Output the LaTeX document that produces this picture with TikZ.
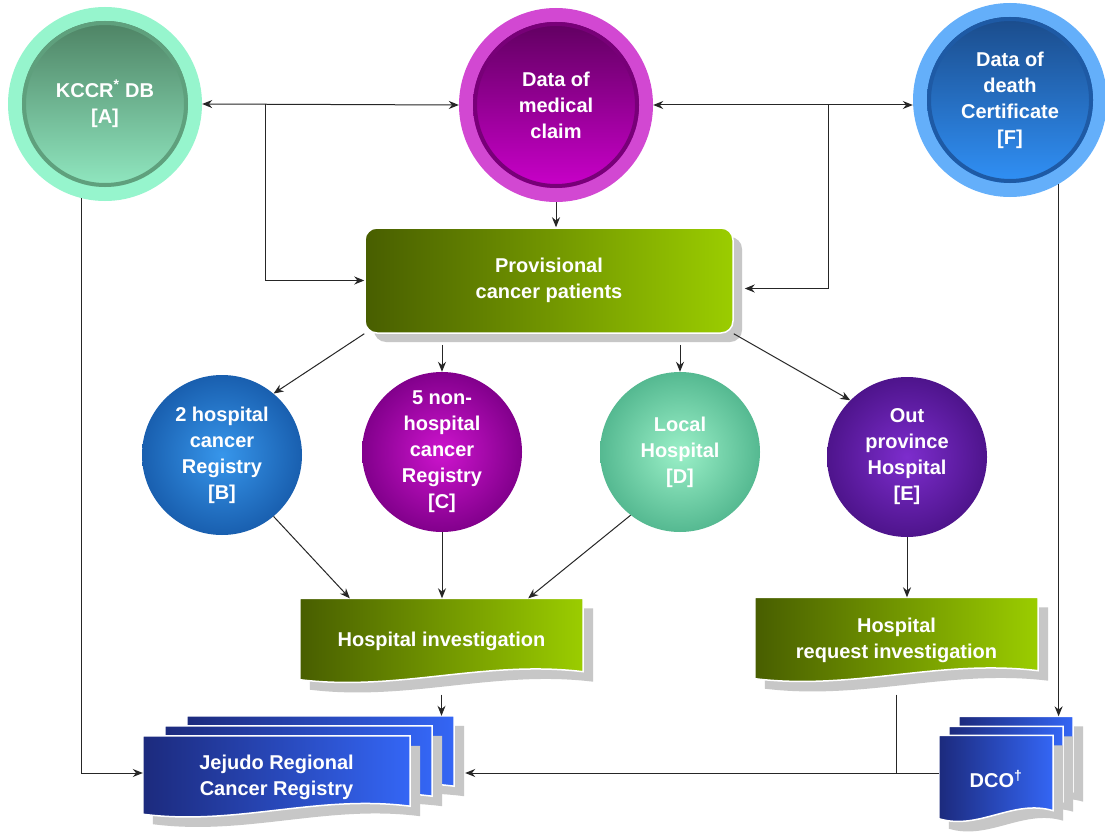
\documentclass[tikz,border=0pt]{standalone}
\usepackage{fontspec}
\setmainfont{Liberation Sans}
\usetikzlibrary{arrows.meta,positioning,calc,backgrounds,shadows}

\definecolor{mintring}{RGB}{150,245,205}
\definecolor{mintdark}{RGB}{72,122,92}
\definecolor{mintlight}{RGB}{150,240,200}
\definecolor{mintrim}{RGB}{95,160,125}
\definecolor{plumring}{RGB}{210,72,210}
\definecolor{plumdark}{RGB}{88,0,88}
\definecolor{plumlight}{RGB}{210,0,210}
\definecolor{plumrim}{RGB}{120,0,120}
\definecolor{skyring}{RGB}{100,175,250}
\definecolor{skydark}{RGB}{25,70,130}
\definecolor{skylight}{RGB}{50,150,255}
\definecolor{skyrim}{RGB}{30,90,165}
\definecolor{oliveL}{RGB}{72,94,0}
\definecolor{oliveR}{RGB}{155,205,0}
\definecolor{navyL}{RGB}{28,42,125}
\definecolor{navyR}{RGB}{52,102,245}
\definecolor{bIn}{RGB}{55,150,235}
\definecolor{bOut}{RGB}{25,95,175}
\definecolor{cIn}{RGB}{205,20,205}
\definecolor{cOut}{RGB}{130,0,140}
\definecolor{dIn}{RGB}{155,240,200}
\definecolor{dOut}{RGB}{85,185,145}
\definecolor{eIn}{RGB}{125,45,205}
\definecolor{eOut}{RGB}{78,20,140}

% wavy sheet behind a page node
\newcommand{\docpage}[2]{%
  \path[#2] (#1.north west) -- (#1.north east) -- ($(#1.south east)+(0,-12)$)
    .. controls ($(#1.south east)!0.35!(#1.south west)+(0,-24)$)
    and ($(#1.south east)!0.65!(#1.south west)+(0,8)$)
    .. ($(#1.south west)+(0,-4)$) -- cycle;}

\begin{document}
\begin{tikzpicture}[
    x=1pt, y=-1pt,
    >={Stealth[length=10pt,width=8pt]},
    txt/.style={text=white, font=\bfseries\fontsize{20}{26}\selectfont, align=center},
    ringball/.style n args={4}{circle, minimum size=194pt, inner sep=0pt, fill=#1, txt,
        path picture={
          \shade[top color=#2, bottom color=#3] (path picture bounding box.center) circle (83pt);
          \draw[#4, line width=4pt] (path picture bounding box.center) circle (81pt);}},
    ball/.style 2 args={circle, minimum size=160pt, inner sep=0pt, inner color=#1, outer color=#2, txt},
    provbox/.style={rectangle, rounded corners=12pt, minimum width=368pt, minimum height=105pt,
        left color=oliveL, right color=oliveR, draw=white, line width=1.5pt, txt,
        drop shadow={shadow xshift=9pt, shadow yshift=-9pt, fill=black!22, opacity=1}},
    pagebox/.style={rectangle, inner sep=0pt, txt},
    greenpage/.style={left color=oliveL, right color=oliveR, draw=white, line width=1.5pt},
    bluepage/.style={left color=navyL, right color=navyR, draw=white, line width=1.5pt},
    pageshadow/.style={fill=black!22, transform canvas={xshift=10pt, yshift=-10pt}},
    arrow/.style={->, line width=1pt, black!85},
    link/.style={line width=1pt, black!85}
]
\useasboundingbox (0,0) rectangle (1105,832);

%% ── Sources ──────────────────────────────────────────────────────
\node[ringball={mintring}{mintdark}{mintlight}{mintrim}] (kccr) at (105,104)
    {KCCR\textsuperscript{*} DB\\{[A]}};
\node[ringball={plumring}{plumdark}{plumlight}{plumrim}] (claim) at (556,105)
    {Data of\\medical\\claim};
\node[ringball={skyring}{skydark}{skylight}{skyrim}] (dcert) at (1010,100)
    {Data of\\death\\Certificate\\{[F]}};

\node[provbox] (prov) at (549,280.5) {Provisional\\cancer patients};

%% ── Registries and hospitals ─────────────────────────────────────
\node[ball={bIn}{bOut}] (reg2)  at (222,455) {2 hospital\\cancer\\Registry\\{[B]}};
\node[ball={cIn}{cOut}] (reg5)  at (442,452) {5 non-\\hospital\\cancer\\Registry\\{[C]}};
\node[ball={dIn}{dOut}] (local) at (680,452) {Local\\Hospital\\{[D]}};
\node[ball={eIn}{eOut}] (outp)  at (907,457) {Out\\province\\Hospital\\{[E]}};

%% ── Investigations and outputs ───────────────────────────────────
\node[pagebox, minimum width=283pt, minimum height=85pt] (hinv) at (441.5,641) {Hospital investigation};
\node[pagebox, minimum width=283pt, minimum height=85pt] (hreq) at (896.5,640) {Hospital\\request investigation};

\node[pagebox, minimum width=267pt, minimum height=82pt] (jeju3) at (320.5,757) {};
\node[pagebox, minimum width=267pt, minimum height=82pt] (jeju2) at (298.5,767) {};
\node[pagebox, minimum width=267pt, minimum height=82pt] (jeju)  at (276.5,777) {Jejudo Regional\\Cancer Registry};

\node[pagebox, minimum width=114pt, minimum height=87pt] (dco3) at (1016,760) {};
\node[pagebox, minimum width=114pt, minimum height=87pt] (dco2) at (1006,770) {};
\node[pagebox, minimum width=114pt, minimum height=87pt] (dco)  at (996,779) {DCO\textsuperscript{†}};

\begin{scope}[on background layer]
  \fill[white] (0,0) rectangle (1105,832);
  \docpage{hinv}{pageshadow}  \docpage{hinv}{greenpage}
  \docpage{hreq}{pageshadow}  \docpage{hreq}{greenpage}
  \docpage{jeju3}{pageshadow} \docpage{jeju3}{bluepage}
  \docpage{jeju2}{pageshadow} \docpage{jeju2}{bluepage}
  \docpage{jeju}{pageshadow}  \docpage{jeju}{bluepage}
  \docpage{dco3}{pageshadow}  \docpage{dco3}{bluepage}
  \docpage{dco2}{pageshadow}  \docpage{dco2}{bluepage}
  \docpage{dco}{pageshadow}   \docpage{dco}{bluepage}
\end{scope}

%% ── Arrows ───────────────────────────────────────────────────────
\coordinate (jl) at (265,104);
\coordinate (jr) at (828,105);
\draw[link, <->] (kccr.east) -- (claim.west);
\draw[link, <->] (claim.east) -- (claim.east -| dcert.west);
\draw[arrow] (jl) |- (prov.west);
\draw[arrow] (jr) |- ([xshift=11pt,yshift=-8pt]prov.east);
\draw[arrow] (claim.south) -- (claim.south |- prov.north);

\draw[arrow] (prov.south west) -- (reg2.50);
\draw[arrow] ($(reg5.north |- prov.south)+(0,11)$) -- (reg5.north);
\draw[arrow] ($(local.north |- prov.south)+(0,11)$) -- (local.north);
\draw[arrow] (prov.south east) -- (outp.135);

\draw[arrow] (reg2.-50) -- ($(hinv.north west)+(50,0)$);
\draw[arrow] (reg5.south) -- (reg5.south |- hinv.north);
\draw[arrow] (local.-128) -- ($(hinv.north east)+(-55,0)$);
\draw[arrow] (outp.south) -- (outp.south |- hreq.north);

\draw[arrow] ($(hinv.south)+(0,11)$) -- (hinv.south |- jeju3.north);
\draw[arrow] (kccr.-104) |- ([yshift=4pt]jeju.west);
\draw[arrow] (dcert.-60) -- (dcert.-60 |- dco3.north);
\draw[arrow] ([yshift=6pt]dco.west) -- ($([yshift=6pt]dco.west -| jeju3.east)+(11,0)$);
\draw[link] ($(hreq.south)+(0,12)$) -- ($(hreq.south |- dco.west)+(0,-6)$);
\end{tikzpicture}
\end{document}
